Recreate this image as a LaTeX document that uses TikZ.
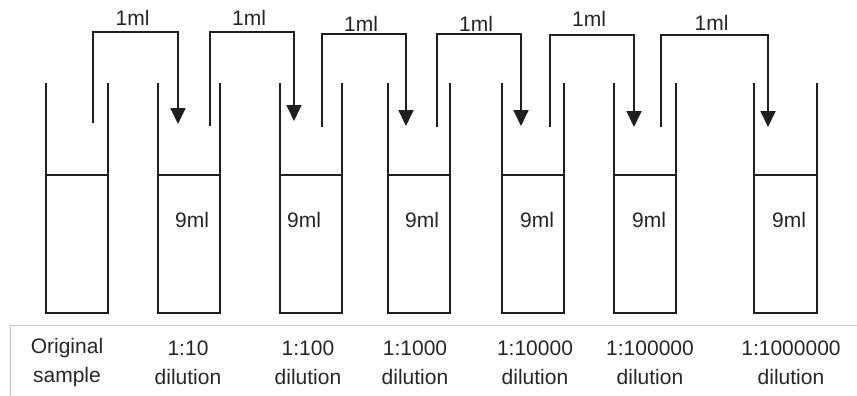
\documentclass[tikz,border=0pt]{standalone}
\usepackage{fontspec}
\setmainfont{Liberation Sans}
\usetikzlibrary{arrows.meta}
\begin{document}
\begin{tikzpicture}[x=1pt,y=-1pt,
  wall/.style={line width=1.8pt,draw=black!88},
  pip/.style={line width=1.8pt,draw=black!88,-{Triangle[width=15pt,length=16pt]}},
  lbl/.style={font=\fontsize{21}{29}\selectfont,inner sep=0pt,text=black!85},
  captxt/.style={lbl,align=center},
  tableline/.style={line width=1pt,draw=black!22}]
\useasboundingbox (0,0) rectangle (857,396);
% tubes
\foreach \l/\r [count=\i] in {46/108,158/220,280/342,388/450,502/564,614/676,754/817}{
  \draw[wall] (\l,83) -- (\l,313) -- (\r,313) -- (\r,83);
  \draw[wall] (\l,175) -- (\r,175);
}
% volumes
\foreach \x [count=\i] in {192,304,422,537,649,789}{
  \node[lbl] (v\i) at (\x,220) {9ml};
}
% pipette transfers
\foreach \a/\b/\top/\bot/\tip/\ly [count=\i] in
  {93/178/32/123/124/18, 210/294/32/126/121/18, 322/406/34/127/126/24,
   437/521/34/127/126/24, 550/634/35/127/127/19, 661/768/35/127/127/23}{
  \coordinate (s\i) at (\a,\bot);
  \coordinate (d\i) at (\b,\tip);
  \draw[pip] (s\i) |- (\b,\top) -- (d\i);
  \node[lbl] (m\i) at ({(\a+\b)/2-3},\ly) {1ml};
}
% table
\draw[tableline] (10,396) -- (10,325) -- (857,325);
\node[captxt] (c0) at (67,363) {Original\\sample};
\node[captxt] (c1) at (188,363) {1:10\\dilution};
\node[captxt] (c2) at (308,363) {1:100\\dilution};
\node[captxt] (c3) at (415,363) {1:1000\\dilution};
\node[captxt] (c4) at (535,363) {1:10000\\dilution};
\node[captxt] (c5) at (650,363) {1:100000\\dilution};
\node[captxt] (c6) at (791,363) {1:1000000\\dilution};
\end{tikzpicture}
\end{document}
